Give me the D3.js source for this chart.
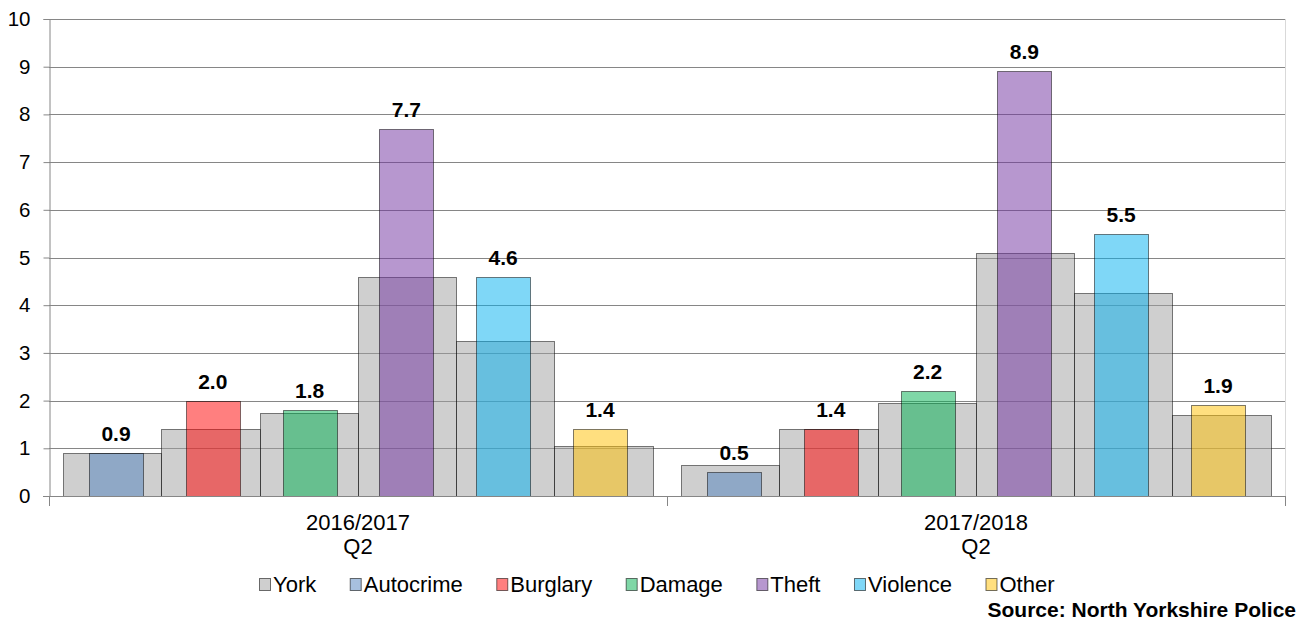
<!DOCTYPE html>
<html>
<head>
<meta charset="utf-8">
<script src="https://cdn.jsdelivr.net/npm/d3@7"></script>
<style>
  html, body { margin: 0; padding: 0; background: #fff; }
  svg { display: block; font-family: "Liberation Sans", Arial, sans-serif; }
</style>
</head>
<body>
<svg id="chart" width="1307" height="624"></svg>
<script>
// ---- data ----
const periods = ["2016/2017 Q2", "2017/2018 Q2"];
const periodLines = [["2016/2017", "Q2"], ["2017/2018", "Q2"]];
const crimes = ["Autocrime", "Burglary", "Damage", "Theft", "Violence", "Other"];
const york2016 = [0.9, 1.4, 1.75, 4.6, 3.25, 1.05];
const york2017 = [0.65, 1.4, 1.95, 5.1, 4.25, 1.7];
const autocrime = [0.9, 0.5];
const burglary = [2.0, 1.4];
const damage = [1.8, 2.2];
const theft = [7.7, 8.9];
const violence = [4.6, 5.5];
const other = [1.4, 1.9];
const yTicks = [0, 1, 2, 3, 4, 5, 6, 7, 8, 9, 10];
const legendLabels = ["York", "Autocrime", "Burglary", "Damage", "Theft", "Violence", "Other"];
const sourceText = "Source: North Yorkshire Police";

// ---- styling ----
const colors = {
  York: "#a0a0a0", Autocrime: "#4F81BD", Burglary: "#FF0000", Damage: "#00B050",
  Theft: "#7030A0", Violence: "#00B0F0", Other: "#FFC000"
};

const yorkValues = [york2016, york2017];
const crimeSeries = { Autocrime: autocrime, Burglary: burglary, Damage: damage, Theft: theft, Violence: violence, Other: other };

const svg = d3.select("#chart");
const pLeft = 49, pRight = 1285, pTop = 19, pBottom = 496;

const y = d3.scaleLinear().domain([0, 10]).range([pBottom, pTop]);
const x0 = d3.scaleBand().domain(periods).range([pLeft, pRight]).padding(0);
const gw = x0.bandwidth();
const xYork = d3.scaleBand().domain(crimes).range([gw * 0.0227, gw * 0.977]).padding(0);
const xCrime = d3.scaleBand().domain(crimes).range([gw * 0.0301, gw * 0.9699]).paddingInner(0.442).paddingOuter(0.221);

// gridlines
svg.append("g").selectAll("line").data(yTicks.filter(d => d > 0)).join("line")
  .attr("x1", pLeft).attr("x2", pRight)
  .attr("y1", d => Math.round(y(d)) + 0.5).attr("y2", d => Math.round(y(d)) + 0.5)
  .attr("stroke", "#868686").attr("stroke-width", 1);

// right border
svg.append("line").attr("x1", pRight + 0.5).attr("x2", pRight + 0.5).attr("y1", pTop).attr("y2", pBottom)
  .attr("stroke", "#d9d9d9");

// York bars
const yorkData = [];
periods.forEach((p, gi) => crimes.forEach((c, ci) => yorkData.push({ p, c, v: yorkValues[gi][ci] })));
svg.append("g").selectAll("rect").data(yorkData).join("rect")
  .attr("x", d => Math.round(x0(d.p) + xYork(d.c)) + 0.5)
  .attr("width", d => Math.round(x0(d.p) + xYork(d.c) + xYork.bandwidth()) - Math.round(x0(d.p) + xYork(d.c)))
  .attr("y", d => Math.round(y(d.v)) + 0.5)
  .attr("height", d => pBottom - Math.round(y(d.v)))
  .attr("fill", colors.York).attr("fill-opacity", 0.5)
  .attr("stroke", "#000").attr("stroke-opacity", 0.5).attr("stroke-width", 1);

// crime bars
const crimeData = [];
periods.forEach((p, gi) => crimes.forEach(c => crimeData.push({ p, c, v: crimeSeries[c][gi] })));
svg.append("g").selectAll("rect").data(crimeData).join("rect")
  .attr("x", d => Math.round(x0(d.p) + xCrime(d.c)) + 0.5)
  .attr("width", Math.round(xCrime.bandwidth()))
  .attr("y", d => Math.round(y(d.v)) + 0.5)
  .attr("height", d => pBottom - Math.round(y(d.v)))
  .attr("fill", d => colors[d.c]).attr("fill-opacity", 0.5)
  .attr("stroke", "#000").attr("stroke-opacity", 0.5).attr("stroke-width", 1);

// value labels
svg.append("g").selectAll("text").data(crimeData).join("text")
  .attr("x", d => x0(d.p) + xCrime(d.c) + xCrime.bandwidth() / 2)
  .attr("y", d => y(d.v) - 12)
  .attr("text-anchor", "middle")
  .attr("font-size", 21).attr("font-weight", "bold").attr("fill", "#000")
  .text(d => d3.format(".1f")(d.v));

// y axis
const yAxis = svg.append("g").attr("transform", `translate(${pLeft + 0.5},0)`)
  .call(d3.axisLeft(y).tickValues(yTicks).tickSize(6).tickPadding(13).tickFormat(d3.format("d")));
yAxis.select(".domain").attr("stroke", "#868686");
yAxis.selectAll(".tick line").attr("stroke", "#868686");
yAxis.selectAll(".tick text").attr("font-size", 20.5).attr("fill", "#000")
  .attr("font-family", "'Liberation Sans', Arial, sans-serif");

// x axis
svg.append("line").attr("x1", pLeft - 6).attr("x2", pRight).attr("y1", pBottom + 0.5).attr("y2", pBottom + 0.5)
  .attr("stroke", "#868686");
const bounds = [pLeft, x0(periods[1]), pRight];
svg.append("g").selectAll("line").data(bounds).join("line")
  .attr("x1", d => Math.round(d) + 0.5).attr("x2", d => Math.round(d) + 0.5)
  .attr("y1", pBottom).attr("y2", pBottom + 10)
  .attr("stroke", "#868686");
const xl = svg.append("g").selectAll("text").data(periods).join("text")
  .attr("x", d => x0(d) + gw / 2)
  .attr("y", 530)
  .attr("text-anchor", "middle").attr("font-size", 22).attr("fill", "#000");
xl.each(function (d, i) {
  const t = d3.select(this);
  periodLines[i].forEach((ln, k) => t.append("tspan").attr("x", x0(d) + gw / 2).attr("dy", k === 0 ? 0 : 24).text(ln));
});

// legend
const lg = svg.append("g");
let lx = 259;
legendLabels.forEach(name => {
  const g = lg.append("g").attr("transform", `translate(${lx},0)`);
  g.append("rect").attr("x", 0.5).attr("y", 578.5).attr("width", 11).attr("height", 12)
    .attr("fill", colors[name]).attr("fill-opacity", 0.5)
    .attr("stroke", "#000").attr("stroke-opacity", 0.55);
  const t = g.append("text").attr("x", 14).attr("y", 592).attr("font-size", 22).attr("fill", "#000").text(name);
  const w = t.node().getComputedTextLength();
  lx += 14 + w + 33.5;
});

// source
svg.append("text").attr("x", 1296).attr("y", 617).attr("text-anchor", "end")
  .attr("font-size", 21).attr("font-weight", "bold").attr("fill", "#000").text(sourceText);
</script>
</body>
</html>
